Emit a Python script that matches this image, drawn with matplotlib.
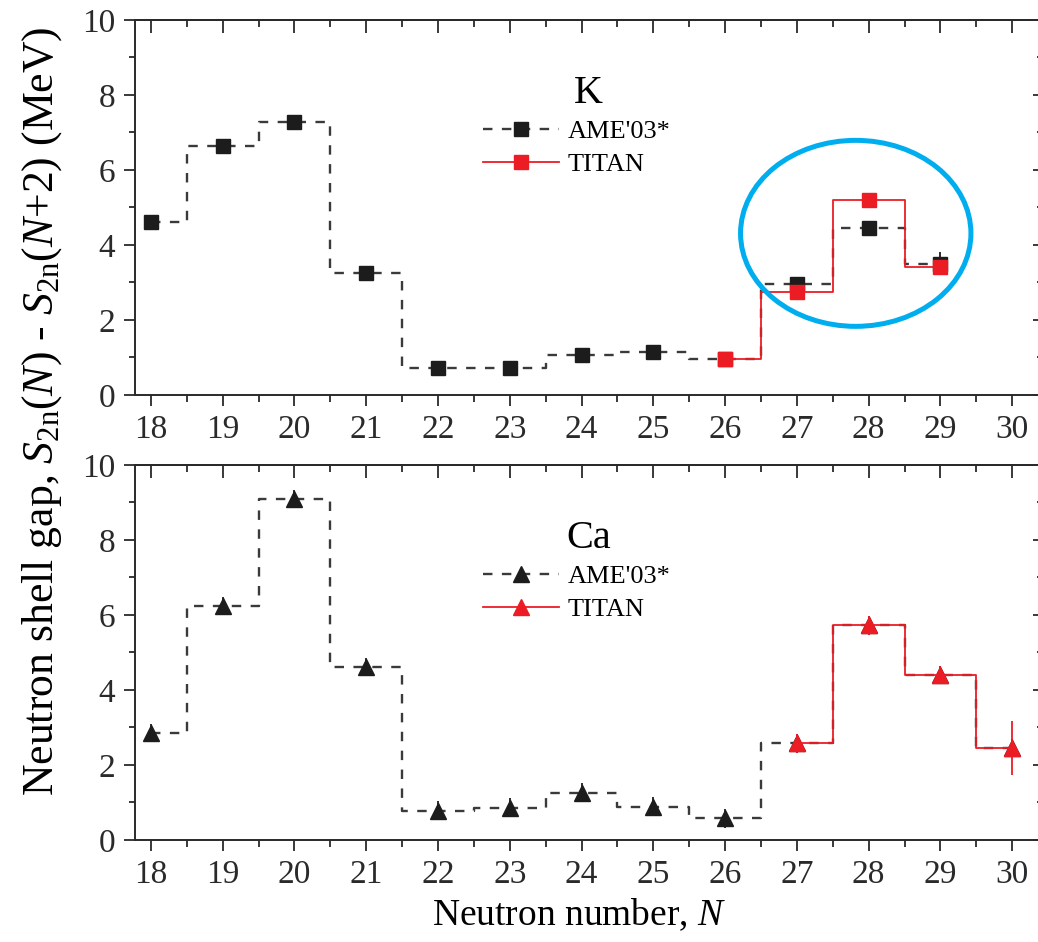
import numpy as np
import matplotlib.pyplot as plt
from matplotlib.patches import Ellipse
from matplotlib.ticker import MultipleLocator

plt.rcParams['font.family'] = ['Liberation Serif', 'DejaVu Serif']
plt.rcParams['mathtext.fontset'] = 'custom'
plt.rcParams['mathtext.rm'] = 'Liberation Serif'
plt.rcParams['mathtext.it'] = 'Liberation Serif:italic'

# K isotopes (top panel)
k_ame_N = [18, 19, 20, 21, 22, 23, 24, 25, 26, 27, 28, 29]
k_ame_gap = [4.60, 6.65, 7.27, 3.24, 0.72, 0.72, 1.06, 1.14, 0.95, 2.95, 4.45, 3.50]
k_ame_err = [0.05, 0.05, 0.05, 0.05, 0.05, 0.05, 0.05, 0.05, 0.05, 0.10, 0.10, 0.30]
k_titan_N = [26, 27, 28, 29]
k_titan_gap = [0.95, 2.75, 5.21, 3.42]
k_titan_err = [0.05, 0.05, 0.05, 0.10]

# Ca isotopes (bottom panel)
ca_ame_N = [18, 19, 20, 21, 22, 23, 24, 25, 26, 27, 28, 29, 30]
ca_ame_gap = [2.85, 6.24, 9.09, 4.61, 0.78, 0.86, 1.26, 0.89, 0.58, 2.58, 5.72, 4.40, 2.45]
ca_ame_err = [0.25, 0.25, 0.25, 0.25, 0.25, 0.25, 0.25, 0.25, 0.25, 0.25, 0.25, 0.25, 0.25]
ca_titan_N = [27, 28, 29, 30]
ca_titan_gap = [2.58, 5.72, 4.40, 2.45]
ca_titan_err = [0.25, 0.25, 0.25, 0.72]

x_ticks = list(range(18, 31))
y_ticks = [0, 2, 4, 6, 8, 10]

ame_color = '#1c1c1c'
titan_color = '#ec1c24'
axis_color = '#2a2a2a'

fig = plt.figure(figsize=(10.38, 9.42), dpi=100)
ax_k = fig.add_axes([0.130, 0.5807, 0.8728, 0.3981])
ax_ca = fig.add_axes([0.130, 0.1083, 0.8728, 0.3981])


def draw_panel(ax, ame_N, ame_gap, ame_err, titan_N, titan_gap, titan_err,
               marker, ms, label):
    # AME'03 dashed step line with markers
    ax.errorbar(ame_N, ame_gap, yerr=ame_err, fmt='none', ecolor=ame_color,
                elinewidth=1.3, capsize=0, zorder=2)
    ax.plot(ame_N, ame_gap, drawstyle='steps-mid', ls='--', dashes=(4, 4),
            color='#3a3a3a', lw=1.7, marker=marker, ms=ms, mfc=ame_color,
            mec=ame_color, label="AME'03*", zorder=3)
    # TITAN solid red step line
    ax.errorbar(titan_N, titan_gap, yerr=titan_err, fmt='none',
                ecolor=titan_color, elinewidth=1.3, capsize=0, zorder=4)
    ax.plot(titan_N, titan_gap, drawstyle='steps-mid', ls='-',
            color=titan_color, lw=1.3, marker=marker, ms=ms, mfc=titan_color,
            mec=titan_color, label='TITAN', zorder=5)

    ax.set_xlim(17.777, 30.40)
    ax.set_ylim(0, 10)
    ax.set_xticks(x_ticks)
    ax.set_yticks(y_ticks)
    ax.xaxis.set_minor_locator(MultipleLocator(0.5))
    ax.yaxis.set_minor_locator(MultipleLocator(1))
    ax.tick_params(which='both', direction='out', colors=axis_color,
                   width=1.3, labelsize=24, top=False, right=False)
    ax.tick_params(axis='x', which='major', length=8, pad=6)
    ax.tick_params(axis='x', which='minor', length=5)
    ax.tick_params(axis='y', which='major', length=8, pad=6)
    ax.tick_params(axis='y', which='minor', length=4)
    for side in ['left', 'bottom', 'top']:
        ax.spines[side].set_color(axis_color)
        ax.spines[side].set_linewidth(1.4)
    ax.spines['right'].set_visible(False)

    # mirrored ticks pointing into the frame on top and right
    top = ax.secondary_xaxis('top')
    top.set_xticks(x_ticks)
    top.xaxis.set_minor_locator(MultipleLocator(0.5))
    top.tick_params(which='both', direction='in', labeltop=False,
                    colors=axis_color, width=1.3)
    top.tick_params(which='major', length=9)
    top.tick_params(which='minor', length=5)
    top.spines['top'].set_color(axis_color)
    top.spines['top'].set_linewidth(1.4)
    right = ax.secondary_yaxis('right')
    right.set_yticks(y_ticks)
    right.yaxis.set_minor_locator(MultipleLocator(1))
    right.tick_params(which='both', direction='in', labelright=False,
                      colors=axis_color, width=1.3)
    right.tick_params(which='major', length=6)
    right.tick_params(which='minor', length=3)

    ax.text(24.1, 7.78, label, fontsize=29, ha='center', va='baseline')
    ax.legend(loc='upper left', bbox_to_anchor=(0.384, 0.735), frameon=False,
              fontsize=19, handlelength=2.9, handletextpad=0.3,
              labelspacing=0.38, borderpad=0, borderaxespad=0)


draw_panel(ax_k, k_ame_N, k_ame_gap, k_ame_err, k_titan_N, k_titan_gap,
           k_titan_err, 's', 9.5, 'K')
draw_panel(ax_ca, ca_ame_N, ca_ame_gap, ca_ame_err, ca_titan_N, ca_titan_gap,
           ca_titan_err, '^', 11.5, 'Ca')

# highlight around N = 27-29 in the K panel
ax_k.add_patch(Ellipse((27.82, 4.31), 3.21, 4.96, fill=False,
                       ec='#00aeef', lw=3.6, zorder=6, clip_on=False))

fig.text(0.04, 0.563,
         r'Neutron shell gap, $S_{\rm 2n}(N)$ - $S_{\rm 2n}(N$+2) (MeV)',
         rotation=90, ha='center', va='center', fontsize=31.5)
fig.text(0.558, 0.029, r'Neutron number, $N$', ha='center', va='center',
         fontsize=27)

plt.savefig('out.png', dpi=100)
